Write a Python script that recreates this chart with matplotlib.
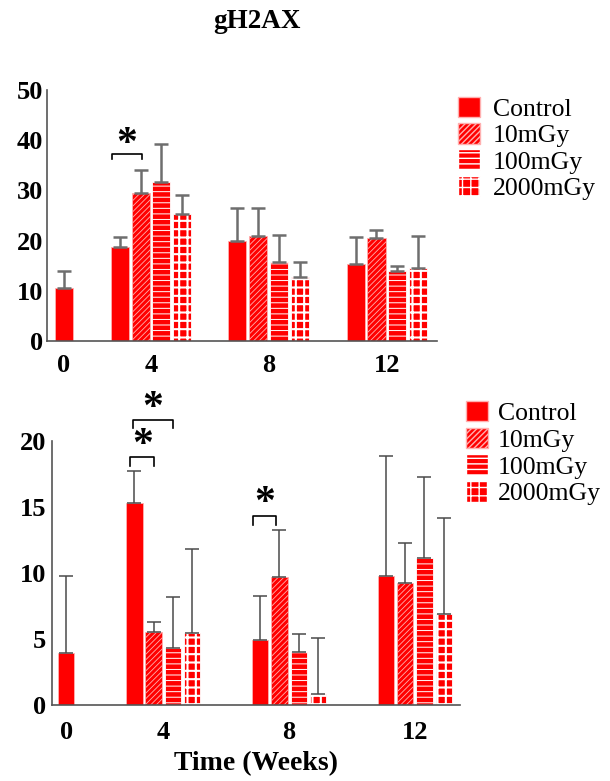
import numpy as np
import matplotlib.pyplot as plt
from matplotlib.patches import Patch

plt.rcParams['font.family'] = ['Liberation Serif', 'DejaVu Serif']
plt.rcParams['hatch.color'] = 'white'

weeks = ['0', '4', '8', '12']
groups = ['Control', '10mGy', '100mGy', '2000mGy']

# top panel (mean, upper error end)
top_ctrl0 = 10.6
top_ctrl0_err = 13.9
top_vals = np.array([[18.7, 29.5, 31.6, 25.3],
                     [19.9, 20.9, 15.7, 12.7],
                     [15.3, 20.5, 13.9, 14.6]])
top_errtop = np.array([[20.8, 34.1, 39.2, 29.1],
                       [26.4, 26.4, 21.2, 15.8],
                       [20.8, 22.2, 15.0, 21.0]])

# bottom panel
bot_ctrl0 = 3.96
bot_ctrl0_err = 9.77
bot_vals = np.array([[15.3, 5.55, 4.34, 5.43],
                     [4.92, 9.72, 4.04, 0.83],
                     [9.8, 9.22, 11.1, 6.87]])
bot_errtop = np.array([[17.75, 6.26, 8.18, 11.8],
                       [8.26, 13.28, 5.38, 5.05],
                       [18.9, 12.3, 17.25, 14.2]])

hatches = [None, '//////', '---', '++']
hatch_lw = [1.0, 0.6, 0.7, 1.5]
edges = ['#ffb0b0', '#ffb0b0', 'white', 'white']
red = '#ff0000'

fig = plt.figure(figsize=(6.1, 7.81), dpi=100)
fig.text(0.422, 0.972, 'gH2AX', ha='center', va='center', fontsize=19.5, fontweight='bold')


def draw_panel(ax, ctrl0, ctrl0_err, vals, errtop, centers, width, ymax, ecolor, elw, xpad):
    ax.bar(centers[0], ctrl0, width, color=red, edgecolor=edges[0], linewidth=0.6)
    ax.errorbar(centers[0], ctrl0, yerr=[[0], [ctrl0_err - ctrl0]], fmt='none',
                ecolor=ecolor, elinewidth=elw, capsize=5, capthick=elw)
    offs = np.array([-1.5, -0.5, 0.5, 1.5])
    for j in range(4):
        xs = np.array(centers[1:]) + offs[j]
        kw = {}
        if hatches[j]:
            kw = dict(hatch=hatches[j], hatch_linewidth=hatch_lw[j])
        ax.bar(xs, vals[:, j], width, color=red, edgecolor=edges[j], linewidth=0.6, **kw)
        ax.errorbar(xs, vals[:, j], yerr=[np.zeros(3), errtop[:, j] - vals[:, j]], fmt='none',
                    ecolor=ecolor, elinewidth=elw, capsize=5, capthick=elw)
    ax.set_ylim(0, ymax)
    ax.set_xticks(centers)
    ax.set_xticklabels(weeks)
    ax.tick_params(length=0, labelsize=19)
    ax.tick_params(axis='x', pad=xpad)
    for lab in ax.get_xticklabels() + ax.get_yticklabels():
        lab.set_fontweight('bold')
    for s in ['top', 'right']:
        ax.spines[s].set_visible(False)
    for s in ['left', 'bottom']:
        ax.spines[s].set_color('#555555')
        ax.spines[s].set_linewidth(1.2)


def bracket(ax, x0, x1, y, yleg, xs, ys):
    ax.plot([x0, x0, x1, x1], [yleg, y, y, yleg], color='black', lw=1.2, clip_on=False)
    ax.text(xs, ys, '*', ha='center', va='center', fontsize=30, fontweight='bold', clip_on=False)


# top panel
ax1 = fig.add_axes([47 / 610, 1 - 341 / 781, 390 / 610, 251 / 781])
top_centers = [0, 4.2, 9.87, 15.58]
draw_panel(ax1, top_ctrl0, top_ctrl0_err, top_vals, top_errtop, top_centers, 0.87, 50,
           '#6e6e6e', 1.8, 9.5)
ax1.set_xlim(-0.82, 18.0)
ax1.set_yticks([0, 10, 20, 30, 40, 50])
ax1.tick_params(axis='y', pad=3)
bracket(ax1, 2.31, 3.75, 37.25, 36.25, 3.03, 39.0)

# bottom panel
ax2 = fig.add_axes([52 / 610, 1 - 705 / 781, 408 / 610, 264 / 781])
bot_centers = [0, 5.03, 11.55, 18.06]
draw_panel(ax2, bot_ctrl0, bot_ctrl0_err, bot_vals, bot_errtop, bot_centers, 0.855, 20,
           '#4a4a4a', 1.1, 11.5)
ax2.set_xlim(-0.73, 20.4)
ax2.set_yticks([0, 5, 10, 15, 20])
ax2.tick_params(axis='y', pad=4)
ax2.set_xlabel('Time (Weeks)', fontsize=20, fontweight='bold', labelpad=5)
bracket(ax2, 3.32, 4.56, 18.8, 18.1, 3.99, 19.6)
bracket(ax2, 3.47, 5.54, 21.6, 21.0, 4.5, 22.4)
bracket(ax2, 9.69, 10.88, 14.3, 13.6, 10.3, 15.2)

handles = [Patch(facecolor=red, edgecolor=edges[j], hatch=hatches[j], hatch_linewidth=hatch_lw[j])
           for j in range(4)]
fig.legend(handles, groups, loc='upper left', bbox_to_anchor=(440 / 610, 1 - 79 / 781),
           frameon=False, fontsize=18.5, handlelength=0.85, handleheight=0.85,
           handletextpad=0.5, labelspacing=0.08, borderpad=0.2)
fig.legend(handles, groups, loc='upper left', bbox_to_anchor=(448 / 610, 1 - 383 / 781),
           frameon=False, fontsize=18.5, handlelength=0.85, handleheight=0.85,
           handletextpad=0.4, labelspacing=0.1, borderpad=0.2)

fig.savefig('out.png', dpi=100)
